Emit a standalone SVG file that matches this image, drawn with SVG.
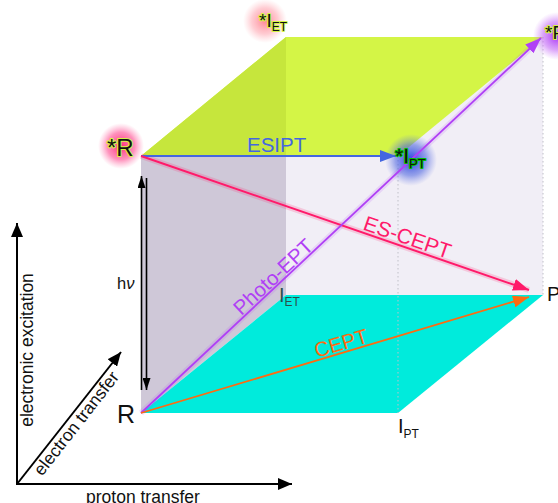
<svg xmlns="http://www.w3.org/2000/svg" width="558" height="503" viewBox="0 0 558 503">
<style>
text{font-family:"Liberation Sans",Arial,sans-serif}
.lbl{fill:#111}
.star{fill:#111;stroke:#d4f546;stroke-width:2;paint-order:stroke;stroke-linejoin:round}
.stargreen{fill:#111;stroke:#00c000;stroke-width:2;paint-order:stroke;stroke-linejoin:round}
.dot{stroke:#c0c0c8;stroke-width:1;stroke-dasharray:1.5 2.5;fill:none}
.axis{stroke:#000;stroke-width:2;fill:none}
.hv{stroke:#000;stroke-width:1.6;fill:none}
</style>
<defs>
<marker id="mBlue" viewBox="0 0 16 12" refX="16" refY="6" markerWidth="16" markerHeight="12" markerUnits="userSpaceOnUse" orient="auto"><path d="M0,0 L16,6 L0,12 z" fill="#4466e0"/></marker>
<marker id="mPink" viewBox="0 0 16 12" refX="16" refY="6" markerWidth="16" markerHeight="12" markerUnits="userSpaceOnUse" orient="auto"><path d="M0,0 L16,6 L0,12 z" fill="#ff1a6a"/></marker>
<marker id="mPurple" viewBox="0 0 16 12" refX="16" refY="6" markerWidth="16" markerHeight="12" markerUnits="userSpaceOnUse" orient="auto"><path d="M0,0 L16,6 L0,12 z" fill="#b040f5"/></marker>
<marker id="mOrange" viewBox="0 0 16 12" refX="16" refY="6" markerWidth="16" markerHeight="12" markerUnits="userSpaceOnUse" orient="auto"><path d="M0,0 L16,6 L0,12 z" fill="#ff6a10"/></marker>
<marker id="mBlackS" viewBox="0 0 12 8" refX="12" refY="4" markerWidth="12" markerHeight="8" markerUnits="userSpaceOnUse" orient="auto"><path d="M0,0 L12,4 L0,8 z" fill="#000"/></marker>
<marker id="mAxis" viewBox="0 0 14 12" refX="14" refY="6" markerWidth="14" markerHeight="12" markerUnits="userSpaceOnUse" orient="auto"><path d="M0,0 L14,6 L0,12 z" fill="#000"/></marker>
<radialGradient id="gPink"><stop offset="0" stop-color="#ff2a7a" stop-opacity="1"/><stop offset="0.6" stop-color="#ff4a90" stop-opacity="0.6"/><stop offset="1" stop-color="#ff80b0" stop-opacity="0"/></radialGradient>
<radialGradient id="gPink2"><stop offset="0" stop-color="#ff6070" stop-opacity="0.75"/><stop offset="0.6" stop-color="#ff8090" stop-opacity="0.4"/><stop offset="1" stop-color="#ffa0a8" stop-opacity="0"/></radialGradient>
<radialGradient id="gBlue"><stop offset="0" stop-color="#2540e0" stop-opacity="1"/><stop offset="0.6" stop-color="#4a62e0" stop-opacity="0.55"/><stop offset="1" stop-color="#7080e8" stop-opacity="0"/></radialGradient>
<radialGradient id="gPurple"><stop offset="0" stop-color="#a830f5" stop-opacity="1"/><stop offset="0.6" stop-color="#c060f5" stop-opacity="0.55"/><stop offset="1" stop-color="#d080f8" stop-opacity="0"/></radialGradient>
</defs>
<rect width="558" height="503" fill="#fff"/>

<g id="cube">
<rect x="286" y="37" width="257" height="258" fill="#f1eef6"/>
<polygon points="141,156 286,156 286,295 141,413" fill="#cfc8d8"/>
<polygon points="141,413 286,295 543,295 398,413" fill="#00ebdc"/>
<polygon points="141,156 286,37 543,37 398,156" fill="#d4f546"/>
<polygon points="141,156 286,37 286,156" fill="#c6e63c"/>
<line class="dot" x1="543" y1="37" x2="543" y2="295"/>
<line class="dot" x1="398" y1="156" x2="398" y2="413"/>
</g>

<g id="axes">
<line class="axis" x1="17" y1="485" x2="17" y2="223" marker-end="url(#mAxis)"/>
<line class="axis" x1="16" y1="484" x2="292" y2="484" marker-end="url(#mAxis)"/>
<line class="axis" x1="17" y1="484" x2="121" y2="352" marker-end="url(#mAxis)"/>
<text class="lbl" x="33" y="350" font-size="17.5" text-anchor="middle" transform="rotate(-90 33 350)">electronic excitation</text>
<text class="lbl" x="81" y="427" font-size="17.5" text-anchor="middle" transform="rotate(-52 81 427)">electron transfer</text>
<text class="lbl" x="86" y="503" font-size="17.5">proton transfer</text>
</g>

<g id="glows">
<circle cx="121" cy="146" r="23" fill="url(#gPink)"/>
<circle cx="265" cy="21" r="22" fill="url(#gPink2)"/>
<circle cx="411" cy="160" r="26" fill="url(#gBlue)"/>
<circle cx="557" cy="36" r="24" fill="url(#gPurple)"/>
</g>

<g id="connectors">
<line x1="141" y1="156" x2="529" y2="290" stroke="#ff1a6a" stroke-width="6" stroke-opacity="0.18"/>
<line x1="141" y1="413" x2="538" y2="41" stroke="#b040f5" stroke-width="6" stroke-opacity="0.15"/>
<line id="esipt" x1="141" y1="156" x2="396" y2="156" stroke="#4466e0" stroke-width="2" marker-end="url(#mBlue)"/>
<line id="escept" x1="141" y1="156" x2="529" y2="290" stroke="#ff1a6a" stroke-width="2" marker-end="url(#mPink)"/>
<line id="photoept" x1="141" y1="413" x2="541" y2="38" stroke="#b040f5" stroke-width="1.8" marker-end="url(#mPurple)"/>
<line id="cept" x1="141" y1="413" x2="529" y2="297" stroke="#ff6a10" stroke-width="1.8" marker-end="url(#mOrange)"/>
<line class="hv" x1="141.5" y1="390" x2="141.5" y2="176" marker-end="url(#mBlackS)"/>
<line class="hv" x1="146.5" y1="178" x2="146.5" y2="390" marker-end="url(#mBlackS)"/>
<text x="247" y="152" font-size="20.5" fill="#4466e0">ESIPT</text>
<text x="405" y="244" font-size="21" fill="#ff1a6a" text-anchor="middle" transform="rotate(19 405 244)">ES-CEPT</text>
<text x="278" y="282" font-size="20.5" fill="#b040f5" text-anchor="middle" transform="rotate(-43 278 282)">Photo-EPT</text>
<text x="343" y="350" font-size="20.5" fill="#ff6a10" text-anchor="middle" transform="rotate(-16.5 343 350)">CEPT</text>
<text class="lbl" x="117" y="289" font-size="16.5">h<tspan font-style="italic">ν</tspan></text>
</g>

<g id="node-R"><text class="lbl" x="117" y="423" font-size="25">R</text></g>
<g id="node-Rstar"><text class="star" x="107" y="156" font-size="24">*R</text></g>
<g id="node-IETstar"><text class="star" x="259" y="27" font-size="19">*I<tspan font-size="12" dy="4">ET</tspan></text></g>
<g id="node-IPTstar"><text class="stargreen" x="395" y="163" font-size="21">*I<tspan font-size="13" dy="5">PT</tspan></text></g>
<g id="node-Pstar"><text class="star" x="545" y="39" font-size="19">*P</text></g>
<g id="node-IET"><text x="279" y="302" font-size="20" fill="#2b4f4b">I<tspan font-size="12" dy="4">ET</tspan></text></g>
<g id="node-IPT"><text class="lbl" x="398" y="433" font-size="20">I<tspan font-size="12" dy="5">PT</tspan></text></g>
<g id="node-P"><text class="lbl" x="547" y="301" font-size="20">P</text></g>
</svg>
